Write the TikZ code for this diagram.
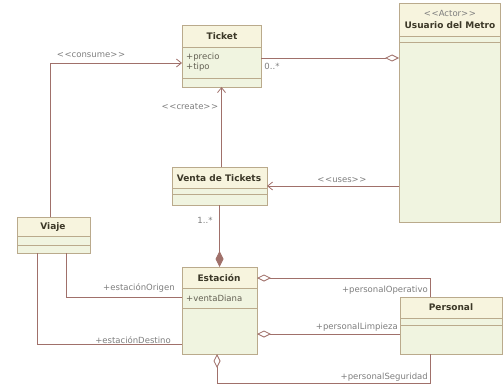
\documentclass[tikz,border=0pt]{standalone}
\usepackage{fontspec}
\setmainfont{DejaVu Sans}
\usetikzlibrary{arrows.meta,positioning}

\definecolor{boxline}{RGB}{186,170,140}
\definecolor{bodyfill}{RGB}{240,244,224}
\definecolor{titlefill}{RGB}{247,244,222}
\definecolor{titletext}{RGB}{60,56,40}
\definecolor{lbltext}{RGB}{125,125,125}
\definecolor{linkcol}{RGB}{160,112,106}

\newcommand\stereo[1]{\textless\kern0.6pt\textless#1\textgreater\kern0.6pt\textgreater}
% title band, two separators and border of a class box
\newcommand\compart[3]{%
  \fill[titlefill] (#1.north west) rectangle ([yshift=-#2pt]#1.north east);
  \draw[boxline,line width=0.8pt] ([yshift=-#2pt]#1.north west) -- ([yshift=-#2pt]#1.north east)
                 ([yshift=-#3pt]#1.north west) -- ([yshift=-#3pt]#1.north east);
  \draw[boxline,line width=0.8pt] (#1.north west) rectangle (#1.south east);}

\tikzset{
  box/.style={fill=bodyfill, anchor=north west, inner sep=0pt, outer sep=0pt},
  title/.style={font=\fontsize{9}{11}\selectfont\bfseries, text=titletext, inner sep=0pt},
  attr/.style={font=\fontsize{8.5}{10}\selectfont, text=titletext!80, anchor=west, inner sep=0pt},
  lbl/.style={font=\fontsize{8.5}{10}\selectfont, text=lbltext, inner sep=0pt},
  link/.style={draw=linkcol, line width=0.8pt},
  dep/.style={link, -{Straight Barb[length=5pt,width=8pt]}},
  agg/.style={link, {Diamond[open,length=14pt,width=7pt,fill=white]}-},
  comp/.style={link, -{Diamond[length=16pt,width=8pt]}},
}

\begin{document}
\begin{tikzpicture}[x=1pt,y=-1pt]
\useasboundingbox (0,0) rectangle (503,385);

% class boxes
\node[box, minimum width=79pt,  minimum height=62pt]  (ticket)   at (182,25)  {};
\node[box, minimum width=101pt, minimum height=219pt] (usuario)  at (399,3)   {};
\node[box, minimum width=95pt,  minimum height=38pt]  (venta)    at (172,167) {};
\node[box, minimum width=73pt,  minimum height=36pt]  (viaje)    at (17,217)  {};
\node[box, minimum width=75pt,  minimum height=87pt]  (estacion) at (182,267) {};
\node[box, minimum width=102pt, minimum height=57pt]  (personal) at (400,297) {};

\compart{ticket}{22}{53}
\compart{usuario}{33}{39}
\compart{venta}{21}{27}
\compart{viaje}{19}{28}
\compart{estacion}{21}{41}
\compart{personal}{21}{28}

% texts in the boxes
\node[title] (ticketT) at (222,36) {Ticket};
\node[attr] (precio) at (186,57) {+precio};
\node[attr] (tipo) at (186,67) {+tipo};
\node[lbl] (actor) at (450,13) {\stereo{Actor}};
\node[title] (usuarioT) at (450,25) {Usuario del Metro};
\node[title] (ventaT) at (219,178) {Venta de Tickets};
\node[title] (viajeT) at (53,227) {Viaje};
\node[title] (estacionT) at (219,278) {Estación};
\node[attr] (ventaDiaria) at (186,298) {+ventaDiana};
\node[title] (personalT) at (451,307) {Personal};

% connectors
\coordinate (tk) at ([yshift=-2pt]ticket.east);
\draw[dep] ([xshift=-3.5pt]viaje.north) |- ([yshift=-7pt]ticket.west);
\draw[agg] (tk -| usuario.west) -- (tk);
\draw[dep] (ticket.south |- venta.north) -- (ticket.south);
\draw[dep] (venta.east -| usuario.west) -- (venta.east);
\draw[comp] (venta.south) -- (estacion.north);
\draw[link] ([xshift=12.5pt]viaje.south) |- ([yshift=13.5pt]estacion.west);
\draw[link] ([xshift=-16.5pt]viaje.south) |- ([yshift=-33.5pt]estacion.west);
\coordinate (lp) at ([yshift=-23.5pt]estacion.east);
\draw[agg] ([yshift=32.5pt]estacion.east) -| ([xshift=-21pt]personal.north);
\draw[agg] (lp) -- (lp -| personal.west);
\draw[agg] ([xshift=-2.5pt]estacion.south) -- ++(0,29) -| ([xshift=-21pt]personal.south);

% connector labels
\node[lbl] (consume) at (91,55) {\stereo{consume}};
\node[lbl] (mult1) at (272,66) {0..*};
\node[lbl] (create) at (190,107) {\stereo{create}};
\node[lbl] (uses) at (342,180) {\stereo{uses}};
\node[lbl] (mult2) at (205,220) {1..*};
\node[lbl] (origen) at (139,288) {+estaciónOrigen};
\node[lbl] (destino) at (133,340) {+estaciónDestino};
\node[lbl, anchor=east] (operativo) at (428,290) {+personalOperativo};
\node[lbl, anchor=east] (limpieza) at (398,327) {+personalLimpieza};
\node[lbl, anchor=east] (seguridad) at (428,377) {+personalSeguridad};
\end{tikzpicture}
\end{document}
